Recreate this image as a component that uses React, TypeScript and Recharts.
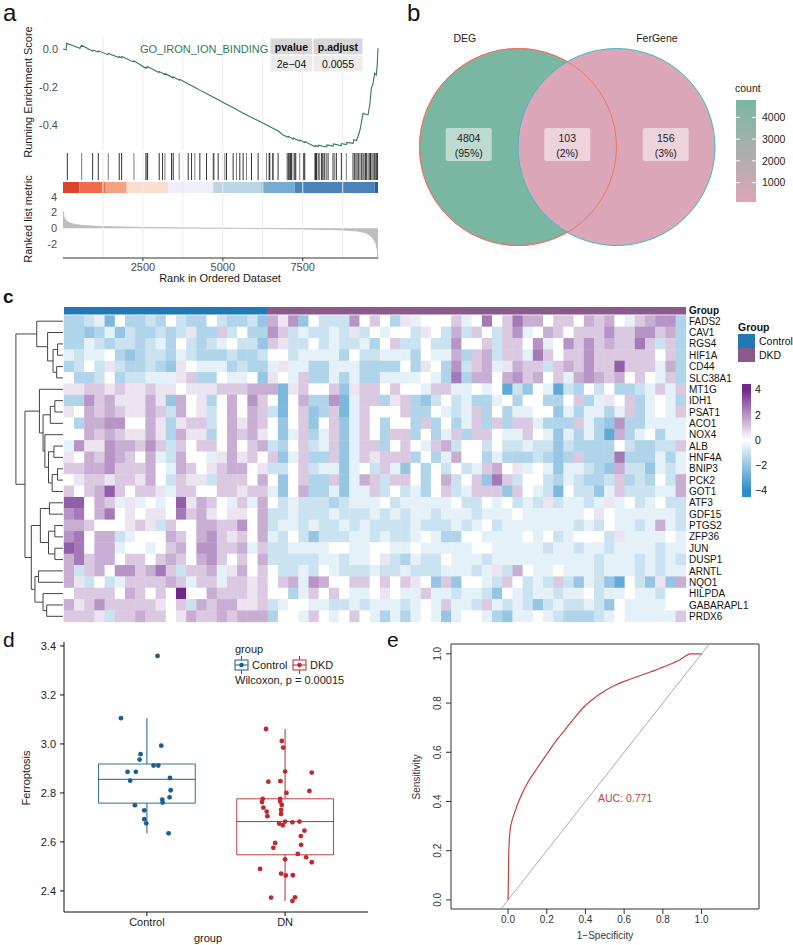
import React from 'react'
import {
  LineChart, Line, AreaChart, Area, ScatterChart, Scatter,
  XAxis, YAxis, ReferenceLine, ReferenceArea,
} from 'recharts'

const FONT = '"Liberation Sans", Arial, Helvetica, sans-serif'

// ---------- a: GSEA running score ----------
const N_RANKED = 9854
const esRanks = [1, 100, 115, 530, 583, 930, 948, 1100, 1115, 1400, 1417, 1750, 1760, 1830, 1840, 2200, 2219, 2590, 2600, 2635, 2645, 3000, 3010, 3115, 3190, 3200, 3440, 3450, 3640, 3650, 3920, 4030, 4130, 4290, 4490, 4700, 4860, 5070, 5330, 5640, 5900, 6110, 6370, 6580, 6730, 6885, 7040, 7050, 7200, 7210, 7400, 7410, 7560, 7570, 7823, 7880, 7890, 7980, 7990, 8135, 8250, 8260, 8450, 8460, 8552, 8700, 8710, 8870, 8880, 9073, 9100, 9180, 9229, 9300, 9385, 9480, 9542, 9600, 9646, 9700, 9750, 9802, 9830, 9854]
const esScores = [0.0, -0.004, 0.03, 0.004, 0.02, -0.012, -0.006, -0.016, -0.01, -0.03, -0.024, -0.045, -0.04, -0.046, -0.04, -0.068, -0.062, -0.102, -0.096, -0.099, -0.093, -0.124, -0.119, -0.128, -0.135, -0.13, -0.152, -0.147, -0.165, -0.16, -0.185, -0.194, -0.203, -0.218, -0.235, -0.254, -0.268, -0.287, -0.31, -0.338, -0.361, -0.378, -0.4, -0.419, -0.432, -0.453, -0.465, -0.46, -0.475, -0.469, -0.484, -0.479, -0.492, -0.487, -0.51, -0.515, -0.508, -0.514, -0.507, -0.512, -0.515, -0.505, -0.511, -0.5, -0.503, -0.51, -0.498, -0.503, -0.492, -0.497, -0.478, -0.482, -0.461, -0.42, -0.339, -0.345, -0.347, -0.29, -0.207, -0.18, -0.128, -0.137, -0.08, 0.004]
const hitRanks = [135, 583, 927, 1104, 1417, 1760, 1833, 2219, 2594, 2635, 2650, 3010, 3115, 3188, 3396, 3448, 3635, 3917, 4021, 4125, 4281, 4490, 4698, 4719, 4854, 5063, 5115, 5323, 5427, 5531, 5635, 5740, 5896, 6104, 6365, 6448, 6469, 6552, 6573, 6729, 7010, 7042, 7070, 7094, 7120, 7146, 7198, 7250, 7281, 7406, 7531, 7563, 7875, 7900, 7930, 7979, 8010, 8083, 8110, 8135, 8188, 8240, 8292, 8448, 8500, 8552, 8708, 8865, 9073, 9125, 9160, 9200, 9250, 9290, 9333, 9385, 9420, 9460, 9490, 9540, 9580, 9620, 9646, 9698, 9740, 9780, 9802, 9840]
const metricRanks = [1, 30, 80, 150, 220, 400, 700, 1260, 2510, 4000, 5500, 7000, 8000, 8760, 9200, 9450, 9590, 9700, 9760, 9800, 9830, 9854]
const metricValues = [2.2, 1.5, 1.05, 0.8, 0.64, 0.45, 0.32, 0.21, 0.09, 0.03, -0.01, -0.07, -0.13, -0.21, -0.35, -0.55, -0.85, -1.3, -1.7, -2.1, -2.7, -3.7]
const stripeBreaks = [0, 510, 1313, 1990, 3292, 4698, 6208, 7250, 9750, 9854]
const stripeColors = ['#d9442b', '#ef6a4a', '#f5a283', '#fcdccd', '#eeeff8', '#bdd6e6', '#75acd3', '#4a82ba', '#2f5ea8']
const gridRanks = [1250, 2500, 3750, 5000, 6250, 7500, 8750]
const rankTicks = [2500, 5000, 7500]
const esTicks = [-0.4, -0.2, 0]
const metricTicks = [4, 2, 0, -2]

// ---------- b: Venn ----------
const setNames = ['DEG', 'FerGene']
const setCentres = [0, 1]
const regionCounts = [4804, 103, 156]
const regionCentres = [-0.5, 0.5, 1.5]
const countTicks = [1000, 2000, 3000, 4000]

// ---------- c: heatmap ----------
const genes = ['FADS2', 'CAV1', 'RGS4', 'HIF1A', 'CD44', 'SLC38A1', 'MT1G', 'IDH1', 'PSAT1', 'ACO1', 'NOX4', 'ALB', 'HNF4A', 'BNIP3', 'PCK2', 'GOT1', 'ATF3', 'GDF15', 'PTGS2', 'ZFP36', 'JUN', 'DUSP1', 'ARNTL', 'NQO1', 'HILPDA', 'GABARAPL1', 'PRDX6']
const groupNames = ['Control', 'DKD']
const groupSizes = [20, 41]
// one letter per sample, a = -4 ... i = 0 ... q = +4 (steps of 0.5)
const heatRows = [
  'ffghdiffgfigffigffge' + 'ljmeigggmikifjhiiikhiniknllikkilklihklmmf',
  'ffefhegffgfgjffkgiff' + 'mkghgghgjgihiigjiglgkigkmhilkikkkmkkmmklf',
  'ffhgfggfghfigfghigge' + 'kjggighgghfikggiggmiikgkkimhimkmklkknkgkf',
  'hghhifefggfhgfffgffg' + 'iighhhhfigghhhfihhlfklgkkhnkikkmkkkkkkikf',
  'fgigjgffgfejihhhfgff' + 'hjhhffhhhffffifjifmgklhjlkkgklkmkkokkkhlf',
  'iffgifgghhhjkffihhie' + 'jihkffhfhffhhhhihfnfllilmklikhlmlklikihkf',
  'jjkkjkjjkjjijjjkkkll' + 'ldjkiikejkkikiihkkhhihicgeihcgfigiffghkhk',
  'ffmkljjjljelijfilimk' + 'idilffmdhkkfjkfegighffhifiiffikfhjikfhihf',
  'jilklkjjlkglijgililk' + 'gdikefkdhkiiikffihghkfifhhiiehfhhfhkfhihk',
  'ifllmmiiljfjkkgiljlk' + 'ieikeikehkifiifkfifhkfkfkkhfffkhfemffhhhh',
  'iilklkjjljfljjfilklj' + 'iehkfhkehkifkkfifhkfkkihhkihehfhfclfhifhh',
  'hmjjmllkmkgkikkilikl' + 'gfikghkehkkfikihklgiigigghggegffffigffggk',
  'jilkmlkilhgliihjljki' + 'kehkffkehkjkkkfifhliifhfffgfefkfffnfffhfh',
  'kkllmkkklihlkijkllij' + 'ggikghhehigkheifigighklijhihehhgfelggehgh',
  'ijkkjkkjligkjjgkkkil' + 'ieikffkehlkgkkifilgikenkgiigfhgffgkfgfigl',
  'kiklokikkjhkkiikkjkk' + 'heilffhehhkgighfikghkkkekihgdiggehkggghhl',
  'ooilkhjhihiojlkihkhl' + 'ighgggfghhhighhhhhiggihighgjghhghjhighigg',
  'mnilnijijjinkljijjil' + 'gghggghggghghghhghhhghhhihhhhhhijihhhhhhg',
  'llkiiijkjgkiillkkmil' + 'ghhghgghghgggghggghghighhhhhhhghgihhghlhg',
  'mnillghiiilkilmkjkil' + 'hgigeggghhghgghihffiihhhhihighiiigjhhhhih',
  'onillhiihiklimmkklhk' + 'gghhhhiihhiihhihhhhhiihhhhhghhghhghhhhghh',
  'lnkllikkiklkilmkikil' + 'ggggghhghhijgfhggihhhghhhhhhhhhhghhhghghg',
  'lgklimmklnkgkklhjlik' + 'igghgihggghgghggghhhghjglihhihhhghhhghghh',
  'ljgighkkkklkhkkhkkjk' + 'iklhmliikkikikjiekeiihgkighgkgehgecigejel',
  'ikkkkilkikiqiilkkkjk' + 'iifhkikihhijihhkhhghhgeihghhghhighhihhgii',
  'ljkmkkkkkjikglklljjk' + 'ghiihhgghghhhghihkhhgkhghgeghgghgeihhhhii',
  'kkkjgkklkkijlkklklll' + 'fiihkihikihfhfhihehiihfehhihgfffghihhhhhk',
]
const LEVELS = 'abcdefghijklmnopq'
const heatTicks = [4, 2, 0, -2, -4]
// hclust style merges: negative = leaf (1-based), positive = earlier merge
const dendroMerges: [number, number, number][] = [
  [-3, -4, 0.6], [-5, -6, 0.7], [1, 2, 1.1], [-2, 3, 1.7], [-1, 4, 2.9],
  [-8, -9, 0.9], [-10, 6, 1.4], [-12, -13, 1.0], [-14, -15, 0.6], [9, -16, 1.2],
  [8, 10, 1.6], [-11, 11, 2.0], [7, 12, 2.2], [-7, 13, 2.6],
  [-17, -18, 1.5], [-19, -20, 0.9], [-21, -22, 0.9], [16, 17, 1.6], [15, 18, 2.5],
  [-26, -27, 1.8], [-25, 20, 2.2], [-23, -24, 2.7], [22, 21, 3.1], [19, 23, 3.5],
  [14, 24, 4.2], [5, 25, 5.2],
]

// ---------- d: boxplot ----------
const boxGroups = ['Control', 'DN']
const ctrlValues = [3.359, 3.105, 2.993, 2.958, 2.936, 2.912, 2.912, 2.886, 2.886, 2.861, 2.85, 2.811, 2.782, 2.773, 2.761, 2.75, 2.729, 2.693, 2.676, 2.635]
const ctrlJitter = [0.077, -0.188, 0.104, -0.046, -0.053, 0.048, 0.082, -0.14, -0.08, 0.167, -0.121, 0.172, 0.164, 0.111, 0.114, -0.087, -0.019, -0.019, -0.005, 0.157]
const dnValues = [3.061, 3.012, 2.985, 2.887, 2.883, 2.846, 2.848, 2.808, 2.8, 2.776, 2.763, 2.776, 2.765, 2.751, 2.74, 2.731, 2.724, 2.714, 2.705, 2.683, 2.68, 2.683, 2.675, 2.668, 2.646, 2.624, 2.596, 2.588, 2.576, 2.551, 2.537, 2.529, 2.517, 2.49, 2.471, 2.463, 2.464, 2.373, 2.374, 2.359]
const dnJitter = [-0.138, -0.024, -0.014, 0.0, 0.193, -0.121, -0.034, 0.176, 0.01, -0.162, -0.167, -0.036, -0.036, -0.024, -0.157, -0.029, -0.133, -0.029, -0.128, 0.104, 0.053, 0.0, -0.043, -0.017, 0.14, 0.114, -0.072, 0.116, -0.085, 0.092, 0.152, 0.0, 0.193, -0.181, -0.029, 0.005, 0.056, -0.101, 0.072, 0.053]
const boxTicks = [2.4, 2.6, 2.8, 3.0, 3.2, 3.4]

// ---------- e: ROC ----------
const rocFpr = [0, 0.002, 0.004, 0.01, 0.02, 0.036, 0.06, 0.096, 0.15, 0.2, 0.25, 0.303, 0.35, 0.398, 0.45, 0.501, 0.55, 0.6, 0.66, 0.717, 0.76, 0.8, 0.85, 0.889, 0.915, 0.94, 1.0]
const rocTpr = [0, 0.1, 0.2, 0.279, 0.32, 0.36, 0.41, 0.469, 0.535, 0.592, 0.648, 0.7, 0.746, 0.789, 0.823, 0.85, 0.871, 0.888, 0.905, 0.921, 0.933, 0.946, 0.962, 0.976, 0.99, 1.0, 1.0]
const rocTicks = [0, 0.2, 0.4, 0.6, 0.8, 1.0]
const AUC = 0.771

// ---------- helpers ----------
const minus = (s: string) => s.replace('-', '\u2212')
const mix = (a: number[], b: number[], t: number) =>
  `rgb(${a.map((c, i) => Math.round(c + (b[i] - c) * t)).join(',')})`

const HEAT_LOW = [45, 140, 199]
const HEAT_MID = [255, 255, 255]
const HEAT_HIGH = [110, 40, 140]
const heatColor = (v: number) =>
  v < 0 ? mix(HEAT_MID, HEAT_LOW, Math.min(-v / 4, 1)) : mix(HEAT_MID, HEAT_HIGH, Math.min(v / 4, 1))

const VENN_PINK = [220, 166, 184]
const VENN_GREEN = [122, 183, 163]
const cMin = Math.min(...regionCounts)
const cMax = Math.max(...regionCounts)
const countColor = (c: number) => mix(VENN_PINK, VENN_GREEN, (c - cMin) / (cMax - cMin))

const quantile = (xs: number[], p: number) => {
  const s = [...xs].sort((a, b) => a - b)
  const h = (s.length - 1) * p
  const lo = Math.floor(h)
  return s[lo] + (h - lo) * ((s[lo + 1] ?? s[lo]) - s[lo])
}
const boxStats = (xs: number[]) => {
  const q1 = quantile(xs, 0.25), med = quantile(xs, 0.5), q3 = quantile(xs, 0.75)
  const iqr = q3 - q1
  const lo = Math.min(...xs.filter((v) => v >= q1 - 1.5 * iqr))
  const hi = Math.max(...xs.filter((v) => v <= q3 + 1.5 * iqr))
  return { q1, med, q3, lo, hi }
}

// ---------- derived tables ----------
const esData = esRanks.map((r, i) => ({ rank: r, es: esScores[i] }))
const metricData = metricRanks.map((r, i) => ({ rank: r, metric: metricValues[i] }))
const hitData = hitRanks.map((r) => ({ rank: r, y: 0.6 }))

const nCols = groupSizes[0] + groupSizes[1]
const heatCells = heatRows.flatMap((row, y) =>
  row.split('').map((ch, x) => ({ x, y, v: (LEVELS.indexOf(ch) - 8) / 2 })),
)
const HM_Y_DOMAIN: [number, number] = [-1.25, genes.length - 0.5]

const dendroSegs: { x1: number; y1: number; x2: number; y2: number }[] = []
{
  const ny: number[] = []
  const nh: number[] = []
  const pos = (id: number) => (id < 0 ? { y: -id - 1, h: 0 } : { y: ny[id - 1], h: nh[id - 1] })
  dendroMerges.forEach(([a, b, h], i) => {
    const A = pos(a)
    const B = pos(b)
    ny[i] = (A.y + B.y) / 2
    nh[i] = h
    dendroSegs.push({ x1: h, y1: A.y, x2: h, y2: B.y })
    dendroSegs.push({ x1: A.h, y1: A.y, x2: h, y2: A.y })
    dendroSegs.push({ x1: B.h, y1: B.y, x2: h, y2: B.y })
  })
}

const ctrlPts = ctrlValues.map((v, i) => ({ x: 1 + ctrlJitter[i], y: v }))
const dnPts = dnValues.map((v, i) => ({ x: 2 + dnJitter[i], y: v }))
const boxes = [boxStats(ctrlValues), boxStats(dnValues)]
const rocData = rocFpr.map((f, i) => ({ fpr: f, tpr: rocTpr[i] }))

const vennCircles = setCentres.map((x, i) => ({ x, y: 0, i }))
const total = regionCounts.reduce((a, b) => a + b, 0)
const vennRegions = regionCounts.map((c, i) => ({ x: regionCentres[i], y: 0.02, c, pct: Math.round((c / total) * 100) }))
const vennLabels = setNames.map((n, i) => ({ x: setCentres[i] + (i === 0 ? -0.54 : 0.41), y: 1.107, n }))

// ---------- styles ----------
const GREEN = '#2f7a5a'
const CTRL_BLUE = '#1d5e8f'
const DN_RED = '#bf2a2f'
const ROC_RED = '#c8403a'
const GROUP_COLORS = ['#2179b4', '#8b5a8c']
const VENN_STROKES = ['#ef7560', '#3fbac6']
const VENN_PX = 98.5
const CELL_W = 622 / nCols + 0.4
const CELL_H = 315 / (HM_Y_DOMAIN[1] - HM_Y_DOMAIN[0]) + 0.4

const place = (left: number, top: number): React.CSSProperties => ({ position: 'absolute', left, top })

const HeatCell = (p: any) => (
  <rect x={p.cx - CELL_W / 2} y={p.cy - CELL_H / 2} width={CELL_W} height={CELL_H} fill={heatColor(p.payload.v)} />
)
const Blank = () => <g />
const VennFill = (p: any) => (
  <circle cx={p.cx} cy={p.cy} r={VENN_PX} fill={countColor(regionCounts[p.payload.i === 0 ? 0 : 2])}
    stroke={VENN_STROKES[p.payload.i]} strokeWidth={1} />
)
const VennOutline = (p: any) => (
  <circle cx={p.cx} cy={p.cy} r={VENN_PX} fill="none" stroke={VENN_STROKES[p.payload.i]} strokeWidth={1} />
)
const VennBox = (p: any) => (
  <g>
    <rect x={p.cx - 23} y={p.cy - 17} width={46} height={33} rx={2} fill="#fff" fillOpacity={0.5} />
    <text x={p.cx} y={p.cy - 3} textAnchor="middle" fontSize={10.5} fill="#222">{p.payload.c}</text>
    <text x={p.cx} y={p.cy + 12} textAnchor="middle" fontSize={10.5} fill="#222">({p.payload.pct}%)</text>
  </g>
)
const VennName = (p: any) => (
  <text x={p.cx} y={p.cy + 4} textAnchor="middle" fontSize={10.5} fill="#222">{p.payload.n}</text>
)
const GeneTick = (p: any) => {
  const v = p.payload.value
  return (
    <text x={p.x} y={p.y} dy={3.6} fontSize={10} fill="#111" fontWeight={v < 0 ? 'bold' : 'normal'} textAnchor="start">
      {v < 0 ? 'Group' : genes[v]}
    </text>
  )
}
const EsTick = (p: any) => (
  <text x={p.x} y={p.y} dy={3.8} textAnchor="end" fontSize={11} fill="#4d4d4d">
    {Number(p.payload.value).toFixed(1)}
  </text>
)
// label drawn at the left end of an invisible reference line at the tick value
const metricLabel = (value: number) => (p: any) => (
  <text x={p.viewBox.x - 6} y={p.viewBox.y} dy={3.8} textAnchor="end" fontSize={11} fill="#4d4d4d">
    {String(value)}
  </text>
)
const dotShape = (color: string) => (p: any) => <circle cx={p.cx} cy={p.cy} r={2.4} fill={color} />
const RocYTick = (p: any) => (
  <text x={p.x - 1.5} y={p.y} transform={`rotate(-90 ${p.x - 1.5} ${p.y})`} textAnchor="middle" fontSize={10} fill="#333">
    {p.payload.value.toFixed(1)}
  </text>
)

const axisTick = { fontSize: 11, fill: '#4d4d4d' }

const BoxKey = ({ x, color, label }: { x: number; color: string; label: string }) => (
  <g>
    <line x1={x + 6.5} y1={656} x2={x + 6.5} y2={674} stroke={color} />
    <rect x={x} y={660} width={13} height={10} fill="#fff" stroke={color} />
    <line x1={x} y1={665} x2={x + 13} y2={665} stroke={color} />
    <circle cx={x + 6.5} cy={665} r={2.3} fill={color} />
    <text x={x + 17} y={669} fontSize={11} fill="#222">{label}</text>
  </g>
)

const App = () => {
  const hmTicks = [-0.93, ...genes.map((_, i) => i)]
  return (
    <div style={{ position: 'absolute', left: 0, top: 0, width: 793, height: 945, background: '#fff', fontFamily: FONT }}>
      {/* a: running enrichment score */}
      <div style={place(0, 30)}>
        <LineChart width={385} height={125} data={esData} margin={{ top: 7, right: 7, bottom: 5, left: 0 }}>
          <XAxis type="number" dataKey="rank" domain={[0, N_RANKED]} hide />
          <YAxis type="number" domain={[-0.532, 0.063]} ticks={esTicks} interval={0} width={63} axisLine={false}
            tickLine={false} tickSize={4} tickMargin={1} tick={<EsTick />} />
          {gridRanks.map((r) => <ReferenceLine key={r} x={r} stroke="#ebebeb" />)}
          <Line dataKey="es" type="linear" stroke={GREEN} strokeWidth={1.1} dot={false} isAnimationActive={false} />
        </LineChart>
      </div>
      {/* a: hits and colour strip */}
      <div style={place(0, 153)}>
        <ScatterChart width={385} height={40} margin={{ top: 0, right: 7, bottom: 0, left: 63 }}>
          <XAxis type="number" dataKey="rank" domain={[0, N_RANKED]} hide />
          <YAxis type="number" dataKey="y" domain={[0, 1]} hide />
          {gridRanks.map((r) => <ReferenceLine key={r} x={r} stroke="#ebebeb" />)}
          {stripeColors.map((c, i) => (
            <ReferenceArea key={'s' + i} x1={stripeBreaks[i]} x2={stripeBreaks[i + 1]} y1={0} y2={0.275}
              fill={c} fillOpacity={1} stroke="none" />
          ))}
          {hitRanks.map((r, i) => (
            <ReferenceLine key={'h' + i} segment={[{ x: r, y: 0.325 }, { x: r, y: 1 }]} stroke="#111"
              strokeOpacity={i % 3 === 1 ? 0.55 : 0.85} />
          ))}
          <Scatter data={hitData} shape={Blank} isAnimationActive={false} />
        </ScatterChart>
      </div>
      {/* a: ranked list metric */}
      <div style={place(0, 190)}>
        <AreaChart width={385} height={95} data={metricData} margin={{ top: 3, right: 7, bottom: 0, left: 0 }}>
          <XAxis type="number" dataKey="rank" domain={[0, N_RANKED]} ticks={rankTicks} interval={0} height={27}
            axisLine={{ stroke: '#333' }} tickLine={{ stroke: '#333' }} tickSize={3} tickMargin={2} tick={axisTick} />
          <YAxis type="number" domain={[-3.8, 4.5]} ticks={metricTicks} width={63} axisLine={false} tickLine={false} tick={false} />
          {gridRanks.map((r) => <ReferenceLine key={r} x={r} stroke="#ebebeb" />)}
          {metricTicks.map((v) => (
            <ReferenceLine key={'t' + v} y={v} stroke="none" label={metricLabel(v)} />
          ))}
          <Area dataKey="metric" type="linear" baseValue={0} stroke="#bdbdbd" fill="#bdbdbd" fillOpacity={1}
            isAnimationActive={false} />
        </AreaChart>
      </div>

      {/* b: Venn */}
      <div style={place(400, 0)}>
        <ScatterChart width={393} height={290} margin={{ top: 0, right: 0, bottom: 0, left: 0 }}>
          <XAxis type="number" dataKey="x" domain={[-118 / VENN_PX, 275 / VENN_PX]} hide />
          <YAxis type="number" dataKey="y" domain={[-143 / VENN_PX, 147 / VENN_PX]} hide />
          <Scatter data={vennCircles} shape={VennFill} isAnimationActive={false} />
          <Scatter data={vennCircles.slice(0, 1)} shape={VennOutline} isAnimationActive={false} />
          <Scatter data={vennRegions} shape={VennBox} isAnimationActive={false} />
          <Scatter data={vennLabels} shape={VennName} isAnimationActive={false} />
        </ScatterChart>
      </div>

      {/* c: dendrogram */}
      <div style={place(0, 300)}>
        <ScatterChart width={64} height={330} margin={{ top: 7, right: 1, bottom: 8, left: 15 }}>
          <XAxis type="number" dataKey="x" domain={[0, 5.3]} reversed hide />
          <YAxis type="number" dataKey="y" domain={HM_Y_DOMAIN} reversed hide />
          <Scatter data={genes.map((_, i) => ({ x: 0, y: i }))} shape={Blank} isAnimationActive={false} />
          {dendroSegs.map((s, i) => (
            <ReferenceLine key={i} segment={[{ x: s.x1, y: s.y1 }, { x: s.x2, y: s.y2 }]} stroke="#444" strokeWidth={1} />
          ))}
        </ScatterChart>
      </div>
      {/* c: heatmap */}
      <div style={place(0, 300)}>
        <ScatterChart width={760} height={330} margin={{ top: 7, right: 0, bottom: 8, left: 64 }}>
          <XAxis type="number" dataKey="x" domain={[-0.5, nCols - 0.5]} hide />
          <YAxis type="number" dataKey="y" domain={HM_Y_DOMAIN} reversed orientation="right" width={74}
            ticks={hmTicks} interval={0} axisLine={false} tickLine={false} tickSize={0} tickMargin={3} tick={<GeneTick />} />
          <ReferenceArea x1={-0.5} x2={groupSizes[0] - 0.5} y1={-1.25} y2={-0.6} fill={GROUP_COLORS[0]} fillOpacity={1} stroke="none" />
          <ReferenceArea x1={groupSizes[0] - 0.5} x2={nCols - 0.5} y1={-1.25} y2={-0.6} fill={GROUP_COLORS[1]} fillOpacity={1} stroke="none" />
          <Scatter data={heatCells} shape={HeatCell} isAnimationActive={false} />
        </ScatterChart>
      </div>

      {/* d: boxplot */}
      <div style={place(0, 630)}>
        <ScatterChart width={390} height={315} margin={{ top: 12, right: 22, bottom: 0, left: 0 }}>
          <XAxis type="number" dataKey="x" domain={[0.4, 2.6]} ticks={[1, 2]} height={33}
            tickFormatter={(v) => boxGroups[v - 1]} axisLine={{ stroke: '#111' }} tickLine={{ stroke: '#111' }}
            tickSize={4} tickMargin={2} tick={{ fontSize: 11, fill: '#222' }} />
          <YAxis type="number" dataKey="y" domain={[2.314, 3.416]} ticks={boxTicks} interval={0} width={64}
            axisLine={{ stroke: '#111' }} tickLine={{ stroke: '#111' }} tickSize={4} tickMargin={4}
            tick={{ fontSize: 11, fill: '#222' }} tickFormatter={(v) => v.toFixed(1)} />
          {boxes.map((b, i) => {
            const c = i === 0 ? CTRL_BLUE : DN_RED
            const x = i + 1
            return [
              <ReferenceLine key={'w1' + i} segment={[{ x, y: b.q3 }, { x, y: b.hi }]} stroke={c} />,
              <ReferenceLine key={'w2' + i} segment={[{ x, y: b.lo }, { x, y: b.q1 }]} stroke={c} />,
              <ReferenceArea key={'b' + i} x1={x - 0.35} x2={x + 0.35} y1={b.q1} y2={b.q3} fill="#fff" fillOpacity={0} stroke={c} strokeOpacity={0.9} />,
              <ReferenceLine key={'m' + i} segment={[{ x: x - 0.35, y: b.med }, { x: x + 0.35, y: b.med }]} stroke={c} />,
            ]
          })}
          <Scatter data={ctrlPts} shape={dotShape(CTRL_BLUE)} isAnimationActive={false} />
          <Scatter data={dnPts} shape={dotShape(DN_RED)} isAnimationActive={false} />
        </ScatterChart>
      </div>

      {/* e: ROC */}
      <div style={place(400, 630)}>
        <LineChart width={393} height={315} data={rocData} margin={{ top: 14, right: 34, bottom: 0, left: 0 }}>
          <XAxis type="number" dataKey="fpr" domain={[-0.295, 1.297]} ticks={rocTicks} interval={0} height={36}
            axisLine={false} tickLine={{ stroke: '#333' }} tickSize={5} tickMargin={2}
            tick={{ fontSize: 10, fill: '#333' }} tickFormatter={(v) => v.toFixed(1)} />
          <YAxis type="number" domain={[-0.037, 1.04]} ticks={rocTicks} interval={0} width={51} axisLine={false}
            tickLine={{ stroke: '#333' }} tickSize={5} tickMargin={3} tick={<RocYTick />} />
          <ReferenceArea x1={-0.295} x2={1.297} y1={-0.037} y2={1.04} fill="#fff" fillOpacity={0} stroke="#333" />
          <ReferenceLine segment={[{ x: -0.037, y: -0.037 }, { x: 1.04, y: 1.04 }]} stroke="#aaa" />
          <Line dataKey="tpr" type="monotone" stroke={ROC_RED} strokeWidth={1.2} dot={false} isAnimationActive={false} />
        </LineChart>
      </div>

      {/* annotations, titles and legends */}
      <svg width={793} height={945} style={{ position: 'absolute', left: 0, top: 0, pointerEvents: 'none' }}>
        <defs>
          <linearGradient id="countGrad" x1="0" y1="0" x2="0" y2="1">
            <stop offset="0" stopColor={countColor(cMax)} />
            <stop offset="1" stopColor={countColor(cMin)} />
          </linearGradient>
          <linearGradient id="heatGrad" x1="0" y1="0" x2="0" y2="1">
            {heatTicks.map((v) => (
              <stop key={v} offset={(440 - v * 12.6 - 384) / 113} stopColor={heatColor(v)} />
            ))}
          </linearGradient>
        </defs>

        {/* panel a */}
        <text x={3} y={21} fontSize={24} fill="#111">a</text>
        <text transform="rotate(-90 32 92)" x={32} y={92} textAnchor="middle" fontSize={11} fill="#1a1a1a">Running Enrichment Score</text>
        <text transform="rotate(-90 32 219)" x={32} y={219} textAnchor="middle" fontSize={11} fill="#1a1a1a">Ranked list metric</text>
        <text x={220} y={282} textAnchor="middle" fontSize={11} fill="#1a1a1a">Rank in Ordered Dataset</text>
        <text x={140} y={53} fontSize={11} fill={GREEN}>GO_IRON_ION_BINDING</text>
        <rect x={270} y={38} width={43} height={17} fill="#d6d6d6" stroke="#fff" />
        <rect x={313} y={38} width={50} height={17} fill="#d6d6d6" stroke="#fff" />
        <rect x={270} y={55} width={43} height={17} fill="#ececec" stroke="#fff" />
        <rect x={313} y={55} width={50} height={17} fill="#ececec" stroke="#fff" />
        <text x={291.5} y={50.5} textAnchor="middle" fontSize={10.5} fontWeight="bold" fill="#111">pvalue</text>
        <text x={338} y={50.5} textAnchor="middle" fontSize={10.5} fontWeight="bold" fill="#111">p.adjust</text>
        <text x={291.5} y={67.5} textAnchor="middle" fontSize={10.5} fill="#111">2e{'\u2212'}04</text>
        <text x={338} y={67.5} textAnchor="middle" fontSize={10.5} fill="#111">0.0055</text>

        {/* panel b legend */}
        <text x={407} y={21} fontSize={24} fill="#111">b</text>
        <text x={735} y={92} fontSize={10.5} fill="#222">count</text>
        <rect x={736} y={100} width={20} height={102} fill="url(#countGrad)" />
        {countTicks.map((t) => {
          const y = 202 - ((t - cMin) / (cMax - cMin)) * 102
          return (
            <g key={t}>
              <line x1={736} x2={740} y1={y} y2={y} stroke="#fff" />
              <line x1={752} x2={756} y1={y} y2={y} stroke="#fff" />
              <text x={762} y={y + 3.8} fontSize={10.5} fill="#222">{t}</text>
            </g>
          )
        })}

        {/* panel c legend */}
        <text x={3} y={303} fontSize={19} fontWeight="bold" fill="#111">c</text>
        <text x={738} y={331} fontSize={10.5} fontWeight="bold" fill="#111">Group</text>
        {groupNames.map((g, i) => (
          <g key={g}>
            <rect x={738} y={334 + i * 14} width={17} height={14} fill={GROUP_COLORS[i]} />
            <text x={759} y={345 + i * 14} fontSize={10.5} fill="#111">{g}</text>
          </g>
        ))}
        <rect x={742} y={384} width={9} height={113} fill="url(#heatGrad)" />
        {heatTicks.map((v) => (
          <text key={v} x={755} y={440 - v * 12.6 + 3.8} fontSize={10.5} fill="#111">{minus(String(v))}</text>
        ))}

        {/* panel d */}
        <text x={3} y={647} fontSize={21} fill="#111">d</text>
        <text transform="rotate(-90 30 778)" x={30} y={778} textAnchor="middle" fontSize={11} fill="#222">Ferroptosis</text>
        <text x={208} y={942} textAnchor="middle" fontSize={11} fill="#222">group</text>
        <text x={235} y={653} fontSize={11} fill="#222">group</text>
        <BoxKey x={235} color={CTRL_BLUE} label="Control" />
        <BoxKey x={293} color={DN_RED} label="DKD" />
        <text x={235} y={684} fontSize={11} fill="#222">Wilcoxon, p = 0.00015</text>

        {/* panel e */}
        <text x={387} y={647} fontSize={21} fill="#111">e</text>
        <text transform="rotate(-90 420 777)" x={420} y={777} textAnchor="middle" fontSize={10} fill="#333">Sensitivity</text>
        <text x={605} y={939} textAnchor="middle" fontSize={10} fill="#333">1{'\u2212'}Specificity</text>
        <text x={598} y={802} fontSize={10.5} fill={ROC_RED}>AUC: {AUC.toFixed(3)}</text>
      </svg>
    </div>
  )
}

export default App
